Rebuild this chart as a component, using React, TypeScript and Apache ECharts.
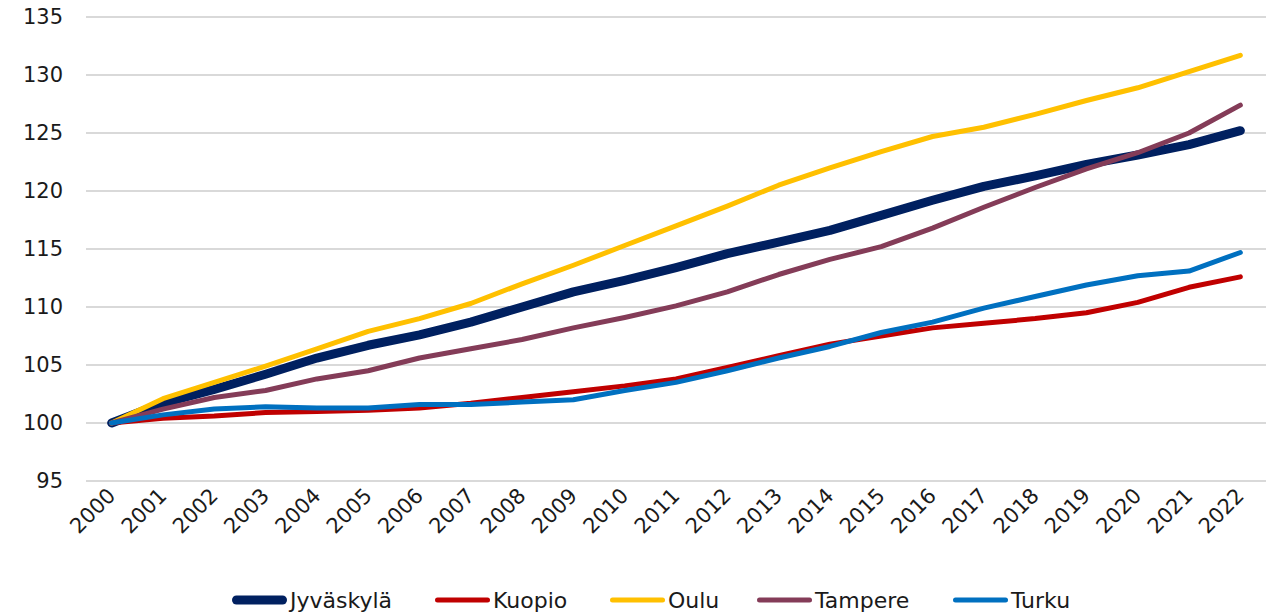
import React, { useEffect, useRef } from "react";
import * as echarts from "echarts";

const years = [
  "2000", "2001", "2002", "2003", "2004", "2005", "2006", "2007", "2008", "2009", "2010", "2011",
  "2012", "2013", "2014", "2015", "2016", "2017", "2018", "2019", "2020", "2021", "2022",
];

const jyvaskyla = [100, 101.7, 102.9, 104.2, 105.6, 106.7, 107.6, 108.7, 110.0, 111.3, 112.3, 113.4, 114.6, 115.6, 116.6, 117.9, 119.2, 120.4, 121.3, 122.3, 123.1, 124.0, 125.2];
const kuopio = [100, 100.4, 100.6, 100.9, 101.0, 101.1, 101.3, 101.7, 102.2, 102.7, 103.2, 103.8, 104.8, 105.8, 106.8, 107.5, 108.2, 108.6, 109.0, 109.5, 110.4, 111.7, 112.6];
const oulu = [100, 102.1, 103.5, 104.9, 106.4, 107.9, 109.0, 110.3, 112.0, 113.6, 115.3, 117.0, 118.7, 120.5, 122.0, 123.4, 124.7, 125.5, 126.6, 127.8, 128.9, 130.3, 131.7];
const tampere = [100, 101.2, 102.2, 102.8, 103.8, 104.5, 105.6, 106.4, 107.2, 108.2, 109.1, 110.1, 111.3, 112.8, 114.1, 115.2, 116.8, 118.6, 120.3, 121.9, 123.3, 125.0, 127.4];
const turku = [100, 100.7, 101.2, 101.4, 101.3, 101.3, 101.6, 101.6, 101.8, 102.0, 102.8, 103.5, 104.5, 105.6, 106.6, 107.8, 108.7, 109.9, 110.9, 111.9, 112.7, 113.1, 114.7];

const seriesNames = ["Jyväskylä", "Kuopio", "Oulu", "Tampere", "Turku"];
const seriesColors = ["#002060", "#C00000", "#FFC000", "#843C58", "#0070C0"];
const seriesData = [jyvaskyla, kuopio, oulu, tampere, turku];
const seriesWidths = [9, 5, 5, 5, 5];
const legendLefts = [232, 435, 610, 757, 953];

const FONT = "DejaVu Sans";
const thickIcon = "path://M4.5,0 L50.5,0 A4.5,4.5 0 0 1 50.5,9 L4.5,9 A4.5,4.5 0 0 1 4.5,0 Z";
const thinIcon = "path://M2.5,0 L52.5,0 A2.5,2.5 0 0 1 52.5,5 L2.5,5 A2.5,2.5 0 0 1 2.5,0 Z";

export default function App() {
  const ref = useRef<HTMLDivElement>(null);
  useEffect(() => {
    const chart = echarts.init(ref.current!, undefined, { renderer: "svg" });
    chart.setOption({
      animation: false,
      grid: { left: 86, top: 17, width: 1187, height: 464, containLabel: false },
      xAxis: {
        type: "category",
        data: years,
        boundaryGap: true,
        axisLine: { show: false },
        axisTick: { show: false },
        axisLabel: {
          rotate: 45,
          interval: 0,
          margin: 11,
          fontFamily: FONT,
          fontSize: 21,
          color: "#1a1a1a",
        },
      },
      yAxis: {
        type: "value",
        min: 95,
        max: 135,
        interval: 5,
        axisLine: { show: false },
        axisTick: { show: false },
        axisLabel: { margin: 23, fontFamily: FONT, fontSize: 21, color: "#1a1a1a" },
        splitLine: { lineStyle: { color: "#d9d9d9", width: 2 } },
      },
      legend: seriesNames.map((n, i) => ({
        data: [{ name: n, icon: i === 0 ? thickIcon : thinIcon }],
        left: legendLefts[i],
        top: 589,
        padding: 0,
        itemWidth: 55,
        itemHeight: i === 0 ? 9 : 5,
        textStyle: { fontFamily: FONT, fontSize: 22, color: "#1a1a1a", padding: [0, 0, 0, -2] },
      })),
      series: seriesNames.map((n, i) => ({
        name: n,
        type: "line",
        data: seriesData[i],
        symbol: "none",
        color: seriesColors[i],
        itemStyle: { color: seriesColors[i] },
        lineStyle: { width: seriesWidths[i], color: seriesColors[i], cap: "round", join: "round" },
        emphasis: { disabled: true },
      })),
    });
    return () => chart.dispose();
  }, []);
  return <div ref={ref} style={{ position: "absolute", left: 0, top: 0, width: 1266, height: 613 }} />;
}
